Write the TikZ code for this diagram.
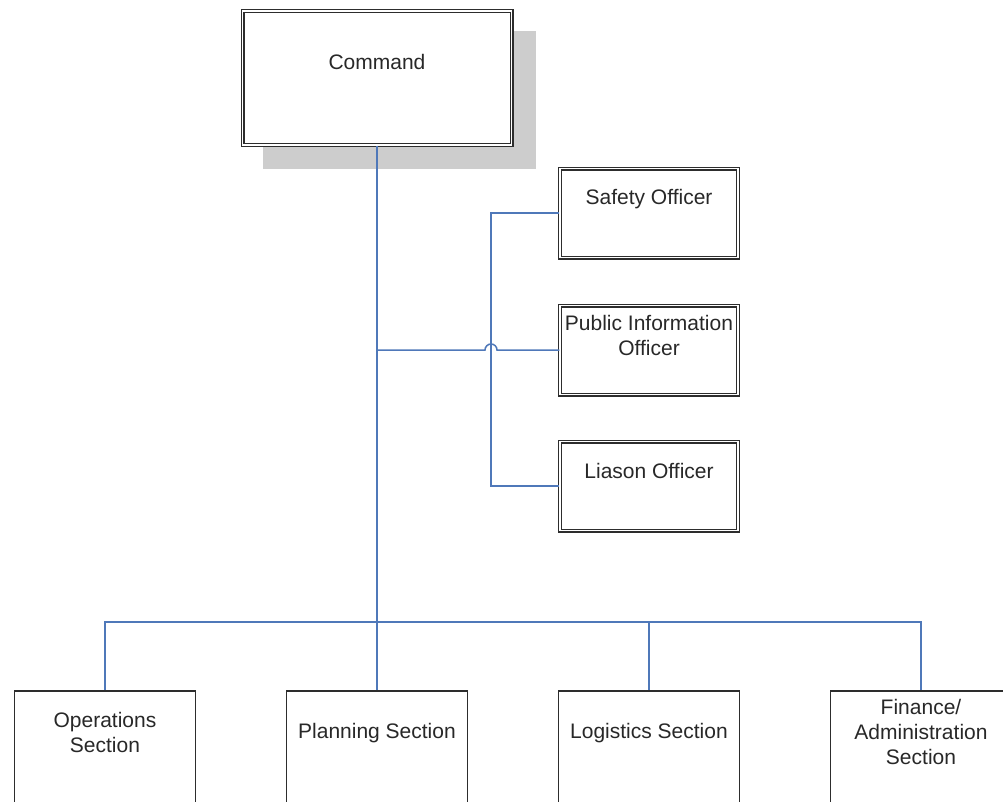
\documentclass[tikz,border=0pt]{standalone}
\usepackage{fontspec}
\setmainfont{Liberation Sans}
\definecolor{conn}{RGB}{79,120,185}
\definecolor{boxline}{RGB}{45,45,45}
\definecolor{shadowgray}{RGB}{205,205,205}
\definecolor{txt}{RGB}{40,40,40}
\begin{document}
\begin{tikzpicture}[x=1pt,y=-1pt,
  every node/.style={font=\fontsize{21}{25}\selectfont, text=txt},
  dblbox/.style={draw=boxline, double=white, line width=1.2pt, double distance=1.6pt,
     fill=white, inner sep=0pt, minimum width=178pt, minimum height=89pt},
  secbox/.style={draw=boxline, line width=1.7pt, fill=white, inner sep=0pt,
     minimum width=181pt, minimum height=140pt},
  boxtext/.style={align=center, inner sep=0pt},
  link/.style={draw=conn, line width=1.5pt}]
\useasboundingbox (0,0) rectangle (1003,801);
\clip (0,0) rectangle (1003,801);
\fill[white] (0,0) rectangle (1003,801);
% shadow of command
\fill[shadowgray] (263,31) rectangle (536,169);
% boxes
\node[dblbox, minimum width=269pt, minimum height=134pt] (cmd) at (377,78) {};
\node[dblbox] (saf) at (649,213) {};
\node[dblbox] (pio) at (649,350) {};
\node[dblbox] (lia) at (649,486) {};
\node[secbox] (ops) at (105,761) {};
\node[secbox] (plan) at (377,761) {};
\node[secbox] (log) at (649,761) {};
\node[secbox] (fin) at (921,761) {};
% texts
\node[boxtext] (cmdt) at ([yshift=16pt]cmd.center) {Command};
\node[boxtext] (saft) at ([yshift=14pt]saf.center) {Safety Officer};
\node[boxtext] (piot) at ([yshift=14.5pt]pio.center) {Public Information\\Officer};
\node[boxtext] (liat) at ([yshift=15pt]lia.center) {Liason Officer};
\node[boxtext] (opst) at ([yshift=28.5pt]ops.center) {Operations\\Section};
\node[boxtext] (plant) at ([yshift=28pt]plan.center) {Planning Section};
\node[boxtext] (logt) at ([yshift=28pt]log.center) {Logistics Section};
\node[boxtext] (fint) at ([yshift=29pt]fin.center) {Finance/\\Administration\\Section};
% connectors
\coordinate (bus) at (377,622);
\coordinate (hub) at (377,350);
\coordinate (sbend) at (491,213);
\path[link] (cmd.south) -- (plan.north);
\path[link] (ops.north) |- (bus) -| (fin.north);
\path[link] (log.north) -- (log.north |- bus);
\path[link] (saf.west) -- (sbend) |- (lia.west);
\path[link] (hub) -- (485,350) arc[start angle=180, end angle=0, radius=6pt] -- (pio.west);
\end{tikzpicture}
\end{document}
